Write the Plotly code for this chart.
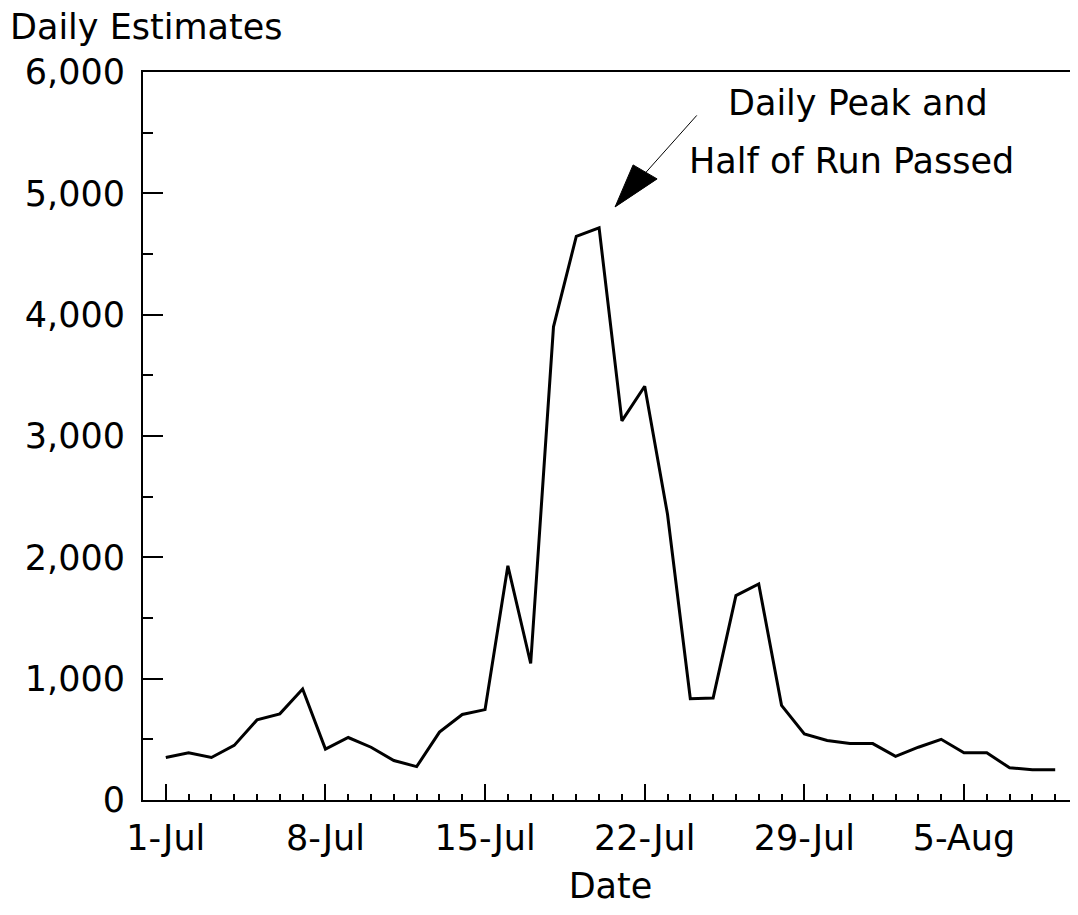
import datetime as dt
import plotly.graph_objects as go

# ---- data ----
start_date = dt.date(2006, 7, 1)
daily_estimates = [
    350, 390, 350, 450, 660, 710, 915, 420, 515, 435,
    325, 275, 560, 705, 745, 1930, 1125, 3900, 4645, 4715,
    3125, 3410, 2355, 835, 840, 1685, 1780, 780, 545, 490,
    465, 465, 360, 435, 500, 390, 390, 265, 250, 250,
]
dates = [start_date + dt.timedelta(days=i) for i in range(len(daily_estimates))]

y_tickvals = [0, 1000, 2000, 3000, 4000, 5000, 6000]
x_tickvals = [start_date + dt.timedelta(days=7 * k) for k in range(6)]  # 1-Jul ... 5-Aug

title_text = "Daily Estimates"
x_title = "Date"
note_line1 = "Daily Peak and"
note_line2 = "Half of Run Passed"

FONT = "DejaVu Sans"
FS = 35

# page body has an 8px margin; plot area spans page px 143..1078 (x), 72..800 (y)
PL, PT, PB = 143, 72, 800
PW, PH = 1078 - PL, PB - PT

def px_x(p):
    return (p - PL) / PW

def px_y(p):
    return (PB - p) / PH

fig = go.Figure()
fig.add_trace(go.Scatter(
    x=dates, y=daily_estimates, mode="lines",
    line=dict(color="black", width=3), showlegend=False, hoverinfo="skip",
))

x_lo = start_date - dt.timedelta(days=1.28)
x_hi = start_date + dt.timedelta(days=40.28)

fig.update_layout(
    width=1070, height=907,
    margin=dict(l=PL - 8, r=0, t=PT - 8, b=907 - (PB - 8), autoexpand=False),
    paper_bgcolor="white", plot_bgcolor="white",
    font=dict(family=FONT, size=FS, color="black"),
    xaxis=dict(
        type="date", range=[x_lo, x_hi],
        tickvals=x_tickvals, tickformat="%-d-%b",
        ticks="inside", ticklen=16, tickwidth=2, tickcolor="black",
        minor=dict(dtick=86400000, tick0=start_date, ticks="inside", ticklen=6,
                   tickwidth=2, tickcolor="black", showgrid=False),
        showline=True, linecolor="black", linewidth=2, mirror=True,
        showgrid=False, zeroline=False, ticklabelstandoff=6,
        tickfont=dict(family=FONT, size=FS, color="black"),
        title=dict(text=x_title, font=dict(family=FONT, size=FS, color="black"), standoff=16),
    ),
    yaxis=dict(
        range=[0, 6000], tickvals=y_tickvals, tickformat=",",
        ticks="inside", ticklen=20, tickwidth=2, tickcolor="black",
        minor=dict(dtick=500, tick0=0, ticks="inside", ticklen=10,
                   tickwidth=2, tickcolor="black", showgrid=False),
        showline=True, linecolor="black", linewidth=2, mirror=False,
        showgrid=False, zeroline=False, ticklabelstandoff=9,
        tickfont=dict(family=FONT, size=FS, color="black"),
    ),
)

# Title at the top-left
fig.add_annotation(text=title_text, xref="paper", yref="paper",
                   x=px_x(8), y=px_y(27),
                   xanchor="left", yanchor="middle", showarrow=False,
                   font=dict(family=FONT, size=FS, color="black"))

# Note text lines
fig.add_annotation(text=note_line1, xref="paper", yref="paper",
                   x=px_x(858), y=px_y(103),
                   xanchor="center", yanchor="middle", showarrow=False,
                   font=dict(family=FONT, size=FS, color="black"))
fig.add_annotation(text=note_line2, xref="paper", yref="paper",
                   x=px_x(851), y=px_y(161),
                   xanchor="center", yanchor="middle", showarrow=False,
                   font=dict(family=FONT, size=FS, color="black"))

# Arrow pointing at the peak
peak_i = max(range(len(daily_estimates)), key=lambda i: daily_estimates[i])
peak_x, peak_y = dates[peak_i], daily_estimates[peak_i]
tip_dx, tip_dy = 16, 21
fig.add_annotation(x=peak_x, y=peak_y, xref="x", yref="y", text="",
                   showarrow=True, arrowhead=0, arrowwidth=1, arrowcolor="black",
                   ax=83, ay=-93, xshift=tip_dx, yshift=tip_dy, standoff=0)
fig.add_shape(type="path", xref="x", yref="y",
              xsizemode="pixel", ysizemode="pixel",
              xanchor=peak_x, yanchor=peak_y,
              path=(f"M{tip_dx},{tip_dy} L{tip_dx + 18},{tip_dy + 42} "
                    f"L{tip_dx + 42},{tip_dy + 28} Z"),
              fillcolor="black", line=dict(color="black", width=1))

fig.write_html("out.html")
